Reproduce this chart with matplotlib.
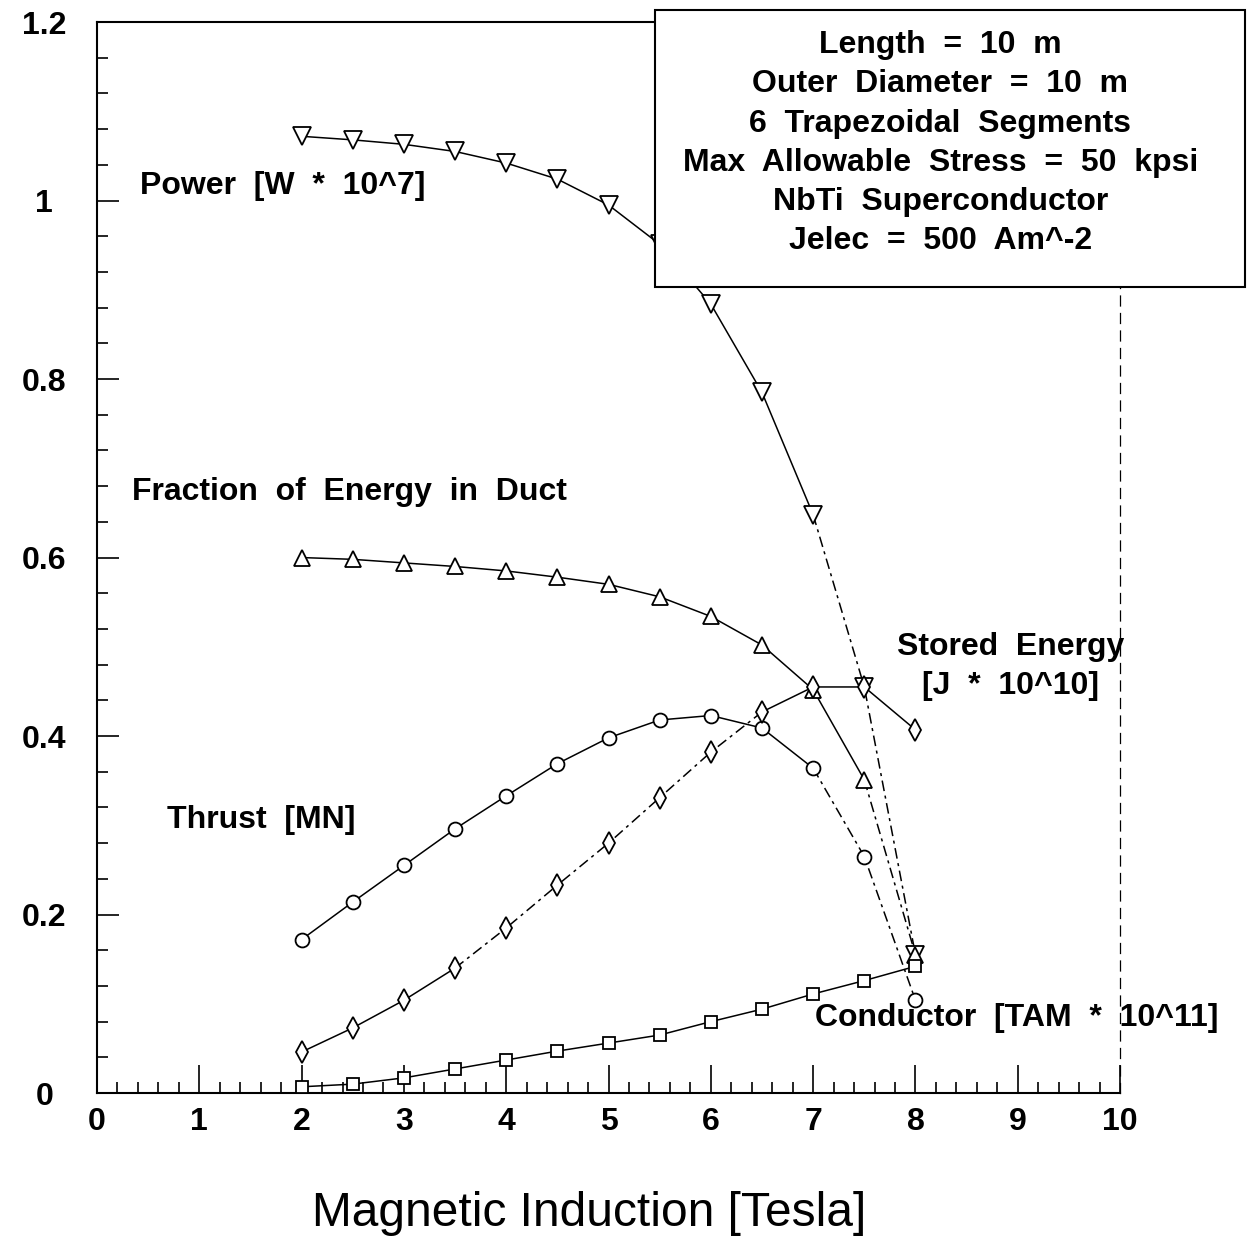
import matplotlib
matplotlib.use('Agg')
import matplotlib.pyplot as plt
from matplotlib.ticker import MultipleLocator
from matplotlib.patches import Rectangle

plt.rcParams['font.family'] = ['Liberation Sans', 'DejaVu Sans']

# Magnetic induction [Tesla]
field = [2.0, 2.5, 3.0, 3.5, 4.0, 4.5, 5.0, 5.5, 6.0, 6.5, 7.0, 7.5, 8.0]

# series
power = [1.072, 1.068, 1.063, 1.055, 1.042, 1.024, 0.995, 0.951, 0.884, 0.785, 0.648, 0.455, 0.155]
fraction = [0.600, 0.598, 0.594, 0.590, 0.585, 0.578, 0.570, 0.556, 0.534, 0.502, 0.452, 0.351, 0.155]
thrust = [0.172, 0.214, 0.255, 0.296, 0.333, 0.369, 0.398, 0.418, 0.423, 0.409, 0.364, 0.265, 0.104]
stored = [0.046, 0.073, 0.104, 0.140, 0.185, 0.233, 0.280, 0.331, 0.382, 0.427, 0.455, 0.455, 0.407]
conductor = [0.007, 0.010, 0.017, 0.027, 0.037, 0.047, 0.056, 0.065, 0.080, 0.094, 0.111, 0.126, 0.142]

box_lines = ['Length = 10 m', 'Outer Diameter = 10 m', '6 Trapezoidal Segments',
             'Max Allowable Stress = 50 kpsi', 'NbTi Superconductor', 'Jelec = 500 Am^-2']


def wide(s):
    # the old plotter put wide gaps between words
    return s.replace(' ', '  ')


fig = plt.figure(figsize=(12.47, 12.39), dpi=100)
ax = fig.add_axes([0.0778, 0.1178, 0.8204, 0.8644])

mk = dict(ls='none', mfc='white', mec='black', mew=1.3, zorder=3)
ln = dict(color='black', lw=1.1, zorder=2)
dash = (0, (7, 3, 2, 3))

# solid part of each curve, then the (scanned) dash-dot tail
ax.plot(field[:11], power[:11], **ln)
ax.plot(field[10:], power[10:], ls=dash, **ln)
ax.plot(field[:12], fraction[:12], **ln)
ax.plot(field[11:], fraction[11:], ls=dash, **ln)
ax.plot(field[:11], thrust[:11], **ln)
ax.plot(field[10:], thrust[10:], ls=dash, **ln)
ax.plot(field[:4], stored[:4], **ln)
ax.plot(field[3:10], stored[3:10], ls=dash, **ln)
ax.plot(field[9:], stored[9:], **ln)
ax.plot(field, conductor, **ln)

ax.plot(field, power, marker='v', ms=13, **mk)
ax.plot(field, fraction, marker='^', ms=12, **mk)
ax.plot(field, thrust, marker='o', ms=10, **mk)
ax.plot(field, stored, marker='d', ms=11, **mk)
ax.plot(field, conductor, marker='s', ms=9, **mk)

ax.set_xlim(0, 10)
ax.set_ylim(0, 1.2)
ax.xaxis.set_major_locator(MultipleLocator(1))
ax.xaxis.set_minor_locator(MultipleLocator(0.2))
ax.yaxis.set_minor_locator(MultipleLocator(0.04))
ax.set_yticks([0, 0.2, 0.4, 0.6, 0.8, 1.0, 1.2])
ax.set_yticklabels(['0', '0.2', '0.4', '0.6', '0.8', '1', '1.2'])
ax.tick_params(axis='both', which='both', direction='in', top=False, right=False, width=1.2)
ax.tick_params(axis='x', which='major', length=20, pad=10, labelsize=23)
ax.tick_params(axis='x', which='minor', length=8)
ax.tick_params(axis='y', which='major', length=16, pad=38, labelsize=23)
ax.tick_params(axis='y', which='minor', length=8)
for lab in ax.get_xticklabels() + ax.get_yticklabels():
    lab.set_fontweight('bold')
for lab in ax.get_yticklabels():
    lab.set_horizontalalignment('center')

for s in ['left', 'bottom', 'top']:
    ax.spines[s].set_linewidth(1.5)
ax.spines['right'].set_linewidth(0.9)
ax.spines['right'].set_linestyle((0, (8, 6)))

ax.set_xlabel('Magnetic Induction [Tesla]', fontsize=34.5)
ax.xaxis.set_label_coords(0.481, -0.091)

fs = 23
tk = dict(fontsize=fs, fontweight='bold', va='center')
ax.text(0.42, 1.016, wide('Power [W * 10^7]'), ha='left', **tk)
ax.text(0.34, 0.673, wide('Fraction of Energy in Duct'), ha='left', **tk)
ax.text(8.93, 0.500, wide('Stored Energy'), ha='center', **tk)
ax.text(8.93, 0.456, wide('[J * 10^10]'), ha='center', **tk)
ax.text(0.68, 0.306, wide('Thrust [MN]'), ha='left', **tk)
ax.text(7.02, 0.084, wide('Conductor [TAM * 10^11]'), ha='left', **tk)

# parameter box, partly outside the axes
fig.patches.append(Rectangle((0.525, 0.768), 0.473, 0.224, transform=fig.transFigure,
                             facecolor='white', edgecolor='black', lw=1.5, zorder=5))
for i, line in enumerate(box_lines):
    fig.text(0.754, 0.9635 - i * 0.0316, wide(line), ha='center', zorder=6, **tk)

fig.savefig('out.png', dpi=100)
